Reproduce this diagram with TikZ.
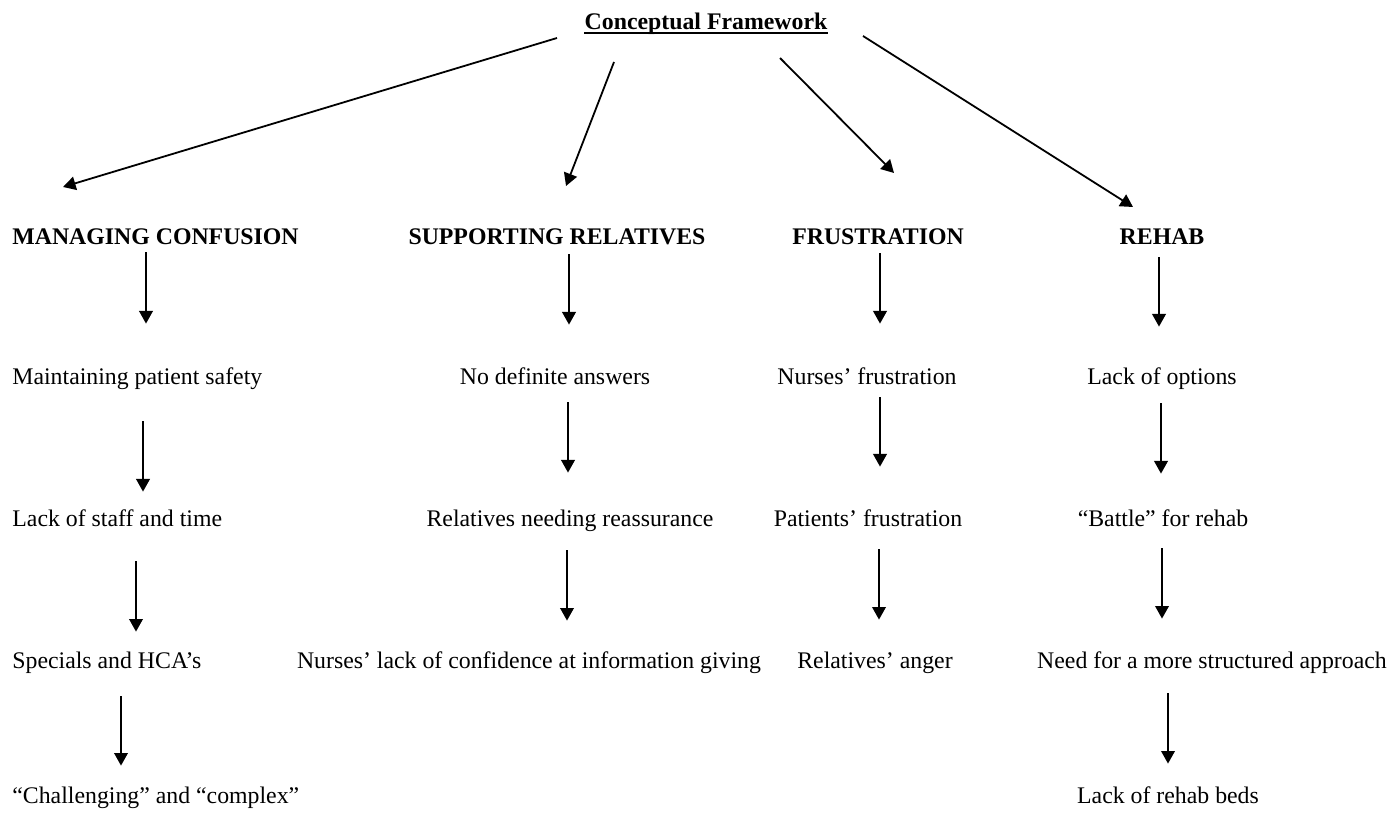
\documentclass[tikz,border=0pt]{standalone}
\usepackage{fontspec}
\setmainfont{Liberation Serif}
\usetikzlibrary{arrows.meta}

\tikzset{
  lbl/.style={font=\fontsize{11.9}{14}\selectfont, inner sep=1pt, text height=8pt, text depth=2.5pt, anchor=base},
  head/.style={lbl, font=\fontsize{11.9}{14}\selectfont\bfseries},
  arr/.style={-{Triangle[width=6.8pt,length=6.3pt]}, line width=0.9pt},
}

\begin{document}
\begin{tikzpicture}[x=0.5pt, y=-0.5pt]
	\useasboundingbox (0,0) rectangle (1396,817);
	% title
	\node[head, inner xsep=0pt] (title) at (706,30) {Conceptual Framework};
	\draw[line width=1pt] ([yshift=-1.3pt]title.base west) -- ([yshift=-1.3pt]title.base east);
	% themes
	\node[head, anchor=base west] (mc) at (10,245) {MANAGING CONFUSION};
	\node[head] (sr) at (557,245) {SUPPORTING RELATIVES};
	\node[head] (fr) at (878,245) {FRUSTRATION};
	\node[head] (re) at (1162,245) {REHAB};
	% sub-themes
	\node[lbl, anchor=base west] (mps) at (10,385) {Maintaining patient safety};
	\node[lbl] (nda) at (555,385) {No definite answers};
	\node[lbl] (nf) at (867,385) {Nurses’ frustration};
	\node[lbl] (lo) at (1162,385) {Lack of options};
	\node[lbl, anchor=base west] (lst) at (10,526) {Lack of staff and time};
	\node[lbl] (rnr) at (570,526) {Relatives needing reassurance};
	\node[lbl] (pf) at (868,526) {Patients’ frustration};
	\node[lbl] (bat) at (1163,526) {“Battle” for rehab};
	\node[lbl, anchor=base west] (sh) at (10,668) {Specials and HCA’s};
	\node[lbl] (nlc) at (529,668) {Nurses’ lack of confidence at information giving};
	\node[lbl] (ra) at (875,668) {Relatives’ anger};
	\node[lbl] (nsa) at (1212,668) {Need for a more structured approach};
	\node[lbl, anchor=base west] (cc) at (10,803) {“Challenging” and “complex”};
	\node[lbl] (lrb) at (1168,803) {Lack of rehab beds};
	% arrows from the title
	\coordinate (s1) at (557,38);  \coordinate (e1) at (63,187);
	\coordinate (s2) at (614,62);  \coordinate (e2) at (566,186);
	\coordinate (s3) at (780,58);  \coordinate (e3) at (894,173);
	\coordinate (s4) at (863,36);  \coordinate (e4) at (1133,207);
	\foreach \i in {1,...,4} \draw[arr] (s\i) -- (e\i);
	% arrows down the columns
	\foreach \a/\b/\x/\p/\q in {mc/mps/146/0/21.5, sr/nda/569/1/21, fr/nf/880/0.5/21.5, re/lo/1159/2.5/20,
		mps/lst/143/14.5/8, nda/rnr/568/5/17.5, nf/pf/880/2.5/20.5, lo/bat/1161/5.5/17,
		lst/sh/136/14/9, rnr/nlc/567/8.5/14.5, pf/ra/879/8/15, bat/nsa/1162/7.5/15.5,
		sh/cc/121/10.5/9.5, nsa/lrb/1168/9/10.5}
		\draw[arr, shorten <=\p pt, shorten >=\q pt] (\a.south -| \x,0) -- (\b.north -| \x,0);
\end{tikzpicture}
\end{document}
